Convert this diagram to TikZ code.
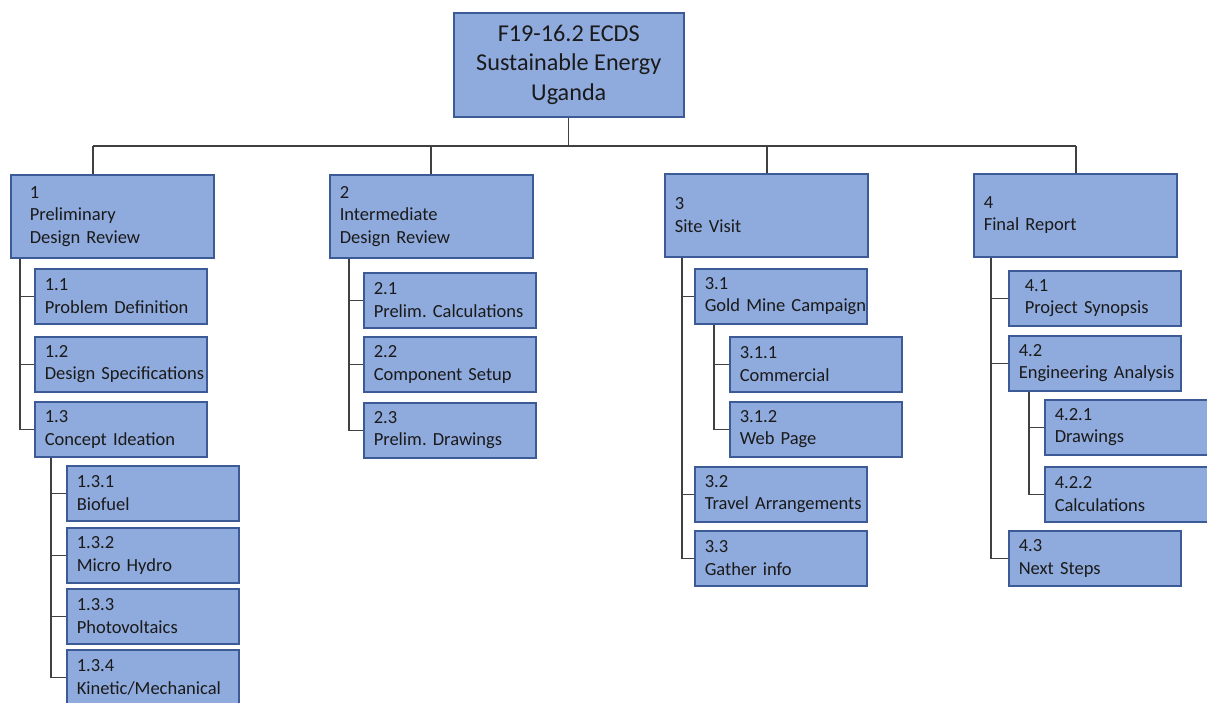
\documentclass[tikz,border=0pt]{standalone}
\usepackage{fontspec}
\setmainfont{Carlito}
\usepackage{tikz}
\usetikzlibrary{positioning}
\usepackage{xcolor}

\definecolor{wbsfill}{HTML}{8FAADC}
\definecolor{wbsedge}{HTML}{3C5A96}
\definecolor{wbstext}{HTML}{1A1A1A}
\definecolor{wbsgray}{HTML}{404040}

\tikzset{
  wbsnode/.style={rectangle, fill=wbsfill, draw=wbsedge, line width=1.5pt,
    text=wbstext, inner ysep=1pt, anchor=north west, align=left},
  rootbox/.style={wbsnode, minimum width=230pt, minimum height=104pt,
    align=center, font=\fontsize{24.2}{29.5}\selectfont},
  topbox/.style={wbsnode, minimum width=203pt, minimum height=83pt,
    inner xsep=10pt, text width=183pt,
    font=\fontsize{18.5}{22.5}\selectfont\frenchspacing},
  subbox/.style={wbsnode, minimum width=172pt, minimum height=55pt,
    inner xsep=10pt, text width=152pt,
    font=\fontsize{18.5}{22.5}\selectfont\frenchspacing},
  wbslink/.style={draw=wbsgray, line width=1.3pt}
}

\begin{document}
\begin{tikzpicture}[x=1pt, y=-1pt]
    \useasboundingbox (0,0) rectangle (1207,702);

    % Root
    \node[rootbox] (root) at (453,12) {F19-16.2 ECDS\\Sustainable Energy\\Uganda};

    % Level 1
    \node[topbox, inner xsep=19pt, text width=165pt] (b1) at (10,174) {1\\Preliminary\\Design Review};
    \node[topbox] (b2) at (329,174) {2\\Intermediate\\Design Review};
    \node[topbox] (b3) at (664,173) {3\\Site Visit};
    \node[topbox] (b4) at (973,173) {4\\Final Report};

    % Bus from the root
    \coordinate (bus1) at (93,146);
    \coordinate (bus2) at (431,146);
    \coordinate (bus3) at (767,146);
    \coordinate (bus4) at (1076,146);
    \draw[wbslink] (root.south) -- (root.south |- bus1);
    \draw[wbslink] (bus1) -- (bus4);
    \foreach \i in {1,...,4}
      \draw[wbslink] (bus\i) -- (bus\i |- b\i.north);

    % Branch 1
    \node[subbox] (c1) at (34,268) {1.1\\Problem Definition};
    \node[subbox] (c2) at (34,336) {1.2\\\mbox{Design Specifications}};
    \node[subbox] (c3) at (34,401) {1.3\\Concept Ideation};
    \node[subbox] (c31) at (66,465) {1.3.1\\Biofuel};
    \node[subbox] (c32) at (66,527) {1.3.2\\Micro Hydro};
    \node[subbox] (c33) at (66,588) {1.3.3\\Photovoltaics};
    \node[subbox] (c34) at (66,649) {1.3.4\\\mbox{Kinetic/Mechanical}};
    \foreach \j in {1,2,3}
      \draw[wbslink] ([xshift=10pt]b1.south west) |- (c\j.west);
    \foreach \j in {1,...,4}
      \draw[wbslink] ([xshift=17pt]c3.south west) |- (c3\j.west);

    % Branch 2
    \node[subbox] (d1) at (363,272) {2.1\\\mbox{Prelim. Calculations}};
    \node[subbox] (d2) at (363,336) {2.2\\Component Setup};
    \node[subbox] (d3) at (363,402) {2.3\\Prelim. Drawings};
    \foreach \j in {1,2,3}
      \draw[wbslink] ([xshift=20pt]b2.south west) |- (d\j.west);

    % Branch 3
    \node[subbox] (e1) at (694,268) {3.1\\\mbox{Gold Mine Campaign}};
    \node[subbox] (e11) at (729,336) {3.1.1\\Commercial};
    \node[subbox] (e12) at (729,401) {3.1.2\\Web Page};
    \node[subbox] (e2) at (694,466) {3.2\\\mbox{Travel Arrangements}};
    \node[subbox] (e3) at (694,530) {3.3\\Gather info};
    \foreach \j in {1,2,3}
      \draw[wbslink] ([xshift=18pt]b3.south west) |- (e\j.west);
    \foreach \j in {1,2}
      \draw[wbslink] ([xshift=20pt]e1.south west) |- (e1\j.west);

    % Branch 4
    \node[subbox, inner xsep=16pt, text width=140pt] (f1) at (1008,270) {4.1\\Project Synopsis};
    \node[subbox] (f2) at (1008,335) {4.2\\\mbox{Engineering Analysis}};
    \node[subbox] (f21) at (1044,399) {4.2.1\\Drawings};
    \node[subbox] (f22) at (1044,466) {4.2.2\\Calculations};
    \node[subbox] (f3) at (1008,530) {4.3\\Next Steps};
    \foreach \j in {1,2,3}
      \draw[wbslink] ([xshift=18pt]b4.south west) |- (f\j.west);
    \foreach \j in {1,2}
      \draw[wbslink] ([xshift=21pt]f2.south west) |- (f2\j.west);
\end{tikzpicture}
\end{document}
